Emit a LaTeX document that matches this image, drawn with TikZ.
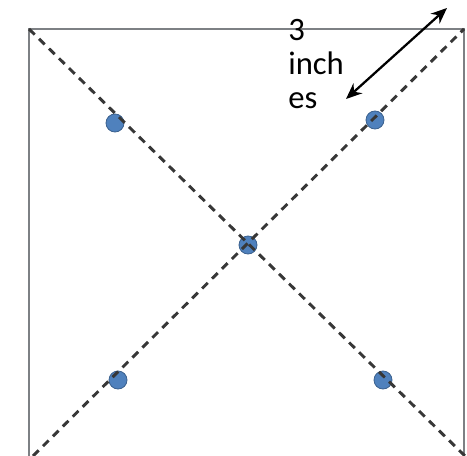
\documentclass[tikz,border=0pt]{standalone}
\usepackage{fontspec}
\setmainfont{Carlito}
\usetikzlibrary{arrows.meta}
\definecolor{framegray}{RGB}{125,128,132}
\definecolor{dashgray}{RGB}{55,55,55}
\definecolor{dotblue}{RGB}{79,129,189}

\begin{document}
\begin{tikzpicture}[x=0.75pt, y=-0.75pt,
                frame/.style={draw=framegray, line width=1.6pt},
                diag/.style={draw=dashgray, line width=2.2pt, dash pattern=on 6pt off 4.5pt},
                spot/.style={circle, draw=dotblue!75!black, fill=dotblue,
                             line width=0.6pt, minimum size=13.5pt, inner sep=0pt}
            ]

            \useasboundingbox (0,0) rectangle (467,456);

            % square, open at the bottom edge of the picture
            \coordinate (tl) at (29,29);
            \coordinate (tr) at (464,29);
            \coordinate (lb) at (29,470);
            \coordinate (rb) at (464,470);
            \coordinate (bl) at (33,456);
            \coordinate (br) at (465,456);
            \draw[frame] (lb) -- (tl) -- (tr) -- (rb);

            % blue points
            \node[spot] (ptl) at (115,123) {};
            \node[spot] (ptr) at (375,120) {};
            \node[spot] (pc) at (248,245) {};
            \node[spot] (pbl) at (118,380) {};
            \node[spot] (pbr) at (383,380) {};

            % diagonals
            \draw[diag] (tl) -- (br);
            \draw[diag] (bl) -- (tr);

            % measure
            \node[anchor=north west, inner sep=0pt, align=left,
                  font=\fontsize{24.5}{25.5}\selectfont] (lbl) at (288,19)
                {3\\inch\\es};
            \coordinate (ain) at (346,99);
            \coordinate (aout) at (447,8);
            \draw[{Stealth[length=12pt, width=10pt]}-{Stealth[length=12pt, width=10pt]},
                  line width=1.7pt] (ain) -- (aout);

            \end{tikzpicture}
\end{document}
